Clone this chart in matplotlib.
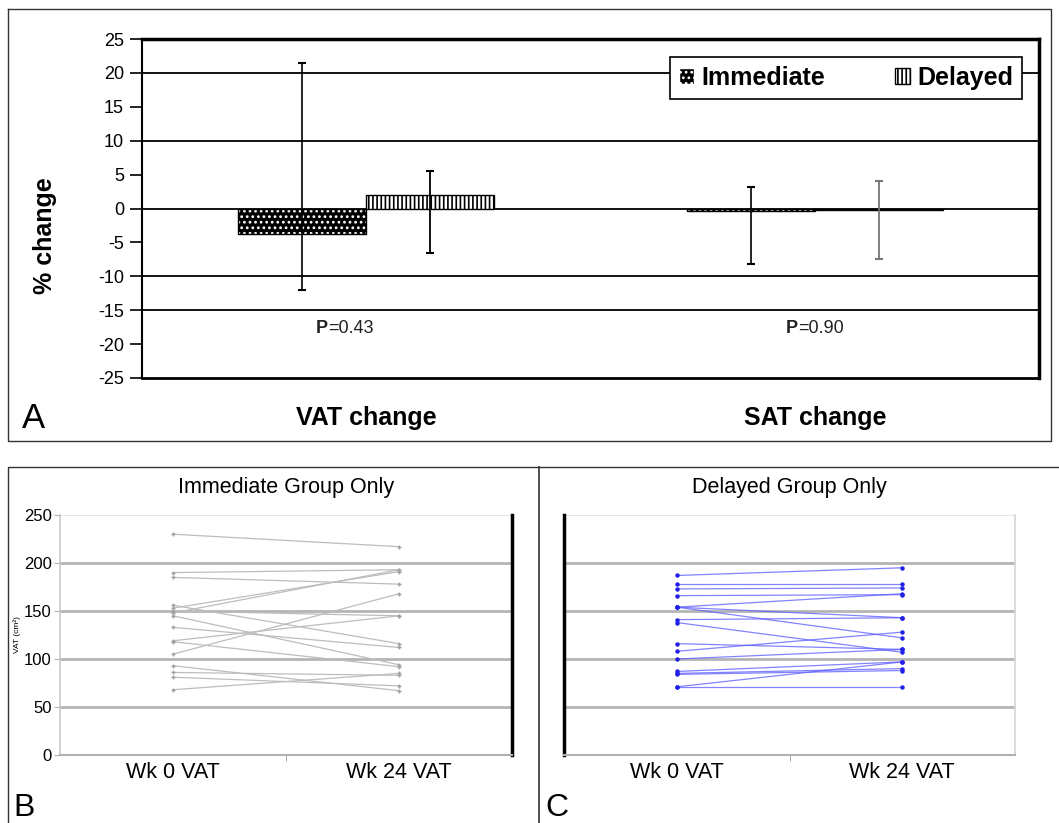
import matplotlib
matplotlib.use("Agg")
import matplotlib.pyplot as plt
import numpy as np
from matplotlib.patches import Patch
from matplotlib.lines import Line2D

plt.rcParams['font.family'] = ['Liberation Sans', 'DejaVu Sans']
plt.rcParams['axes.unicode_minus'] = False
plt.rcParams['hatch.linewidth'] = 1.2

# panel A: mean % change with low/high ends of the error bars
groups = ['VAT change', 'SAT change']
immediate_mean = [-3.7, -0.3]
immediate_lo = [-12.0, -8.2]
immediate_hi = [21.5, 3.2]
delayed_mean = [2.0, -0.2]
delayed_lo = [-6.5, -7.5]
delayed_hi = [5.5, 4.0]
p_values = ['0.43', '0.90']
a_gridlines = [20, 10, 0, -10, -15]

# panels B and C: VAT (cm2) per subject at week 0 and week 24
weeks = ['Wk 0 VAT', 'Wk 24 VAT']
imm_wk0 = [230, 190, 185, 153, 148, 150, 156, 145, 133, 119, 118, 105, 93, 86, 81, 68]
imm_wk24 = [217, 193, 178, 191, 193, 145, 116, 94, 112, 145, 92, 168, 67, 83, 72, 85]
del_wk0 = [187, 178, 173, 166, 154, 154, 154, 141, 138, 116, 108, 100, 87, 85, 84, 71, 71]
del_wk24 = [195, 178, 174, 167, 168, 143, 122, 143, 107, 110, 128, 110, 97, 90, 88, 97, 71]

W, H = 1059, 823
fig = plt.figure(figsize=(W / 100, H / 100), dpi=100)


def box(x0, y0, x1, y1):
    # pixel box (y down) -> figure fraction rect
    return [x0 / W, 1 - y1 / H, (x1 - x0) / W, (y1 - y0) / H]


def fline(xs, ys, **kw):
    fig.add_artist(Line2D([v / W for v in xs], [1 - v / H for v in ys],
                          transform=fig.transFigure, **kw))


# ---------------- panel A ----------------
axA = fig.add_axes(box(142, 39, 1039, 378))
x = np.arange(len(groups))
bw = 0.285
imm_err = [np.subtract(immediate_mean, immediate_lo), np.subtract(immediate_hi, immediate_mean)]
del_err = [np.subtract(delayed_mean, delayed_lo), np.subtract(delayed_hi, delayed_mean)]

for v in a_gridlines:
    axA.axhline(v, color='black', lw=1.3, zorder=0)

axA.bar(x - bw / 2, immediate_mean, bw, color='black', edgecolor='white',
        hatch='...', lw=0, zorder=2)
axA.bar(x - bw / 2, immediate_mean, bw, fill=False, edgecolor='black', lw=1, zorder=3)
axA.bar(x + bw / 2, delayed_mean, bw, color='white', edgecolor='black',
        hatch='||||', lw=1, zorder=2)

axA.errorbar(x - bw / 2, immediate_mean, yerr=imm_err, fmt='none', ecolor='black',
             elinewidth=1.2, capsize=3, capthick=1.5, zorder=4)
for i, c in enumerate(['black', '#777777']):
    axA.errorbar(x[i] + bw / 2, delayed_mean[i], yerr=[[del_err[0][i]], [del_err[1][i]]],
                 fmt='none', ecolor=c, elinewidth=1.3, capsize=3, capthick=1.5, zorder=4)

axA.set_xlim(-0.5, 1.5)
axA.set_ylim(-25, 25)
axA.set_yticks(range(-25, 26, 5))
axA.tick_params(axis='y', labelsize=13, length=9, width=1.2, pad=4)
axA.set_xticks(x)
axA.set_xticklabels(groups, fontsize=18, fontweight='bold')
axA.tick_params(axis='x', length=0, pad=20)
for s in ['top', 'right']:
    axA.spines[s].set_linewidth(2.5)
axA.spines['bottom'].set_linewidth(2)
axA.spines['left'].set_linewidth(1.5)

for px, p in zip([-0.086, 0.962], p_values):
    axA.text(px, -17.7, 'P', ha='right', va='center', fontsize=13, fontweight='bold', color='#222222')
    axA.text(px, -17.7, '=' + p, ha='left', va='center', fontsize=13, color='#222222')

handles = [Patch(facecolor='black', edgecolor='white', hatch='...', label='Immediate'),
           Patch(facecolor='white', edgecolor='black', hatch='||||', label='Delayed')]
leg = axA.legend(handles=handles, ncol=2, loc='upper right',
                 bbox_to_anchor=(1022 / W, 1 - 57 / H), bbox_transform=fig.transFigure,
                 prop={'weight': 'bold', 'size': 18}, fancybox=False, framealpha=1,
                 edgecolor='black', handlelength=0.6, handleheight=0.6,
                 handletextpad=0.3, columnspacing=2.8, borderpad=0.35, borderaxespad=0)
leg.get_frame().set_linewidth(1.2)

fig.text(45 / W, 1 - 236 / H, '% change', rotation=90, fontsize=18, fontweight='bold',
         ha='center', va='center')
fig.text(22 / W, 1 - 428 / H, 'A', fontsize=25)


# ---------------- panels B and C ----------------
def vat_panel(rect, wk0, wk24, title, line_c, mark_c, mark, ms, alpha):
    ax = fig.add_axes(rect)
    for v in [50, 100, 150, 200]:
        ax.axhline(v, color='#b4b4b4', lw=2, zorder=0)
    ax.axhline(250, color='#e4e4e4', lw=1.5, zorder=0)
    for a, b in zip(wk0, wk24):
        ax.plot([0, 1], [a, b], color=line_c, lw=0.9, alpha=alpha, zorder=2)
        ax.plot([0, 1], [a, b], ls='none', marker=mark, ms=ms,
                mec=mark_c, mfc=mark_c, zorder=3)
    ax.set_xlim(-0.5, 1.5)
    ax.set_ylim(0, 250)
    ax.set_xticks([0, 1])
    ax.set_xticklabels(weeks, fontsize=15.5)
    ax.set_xticks([0.5], minor=True)
    ax.tick_params(axis='x', which='major', length=0, pad=5)
    ax.tick_params(axis='x', which='minor', length=4, color='#999999')
    ax.set_yticks(range(0, 251, 50))
    ax.spines['top'].set_visible(False)
    ax.spines['bottom'].set_color('#b0b0b0')
    ax.spines['bottom'].set_linewidth(1.5)
    ax.set_title(title, fontsize=15.5, pad=16)
    return ax


axB = vat_panel(box(60, 515, 512, 755), imm_wk0, imm_wk24, 'Immediate Group Only',
                '#bdbdbd', '#a0a0a0', '+', 3, 1.0)
axB.tick_params(axis='y', labelsize=12, length=4, color='#b0b0b0', pad=2)
axB.spines['left'].set_color('#c8c8c8')
axB.spines['left'].set_linewidth(1.2)
axB.spines['right'].set_color('black')
axB.spines['right'].set_linewidth(2.5)
axB.set_ylabel('VAT (cm²)', fontsize=6, labelpad=2)

axC = vat_panel(box(564, 515, 1015, 755), del_wk0, del_wk24, 'Delayed Group Only',
                '#5a5aff', '#2020e8', 'o', 2.2, 0.75)
axC.tick_params(axis='y', length=0, labelleft=False)
axC.spines['left'].set_color('black')
axC.spines['left'].set_linewidth(2.5)
axC.spines['right'].set_color('#d4d4d4')
axC.spines['right'].set_linewidth(1.2)

fig.text(13 / W, 1 - 816 / H, 'B', fontsize=23)
fig.text(545 / W, 1 - 816 / H, 'C', fontsize=23)

# panel frames
fline([8, 1051, 1051, 8, 8], [9, 9, 441, 441, 9], color='#333333', lw=1)
fline([8, 8, W], [H, 467, 467], color='#333333', lw=1)
fline([539, 539], [467, H], color='#333333', lw=1.2)

fig.savefig('out.png', dpi=100)
